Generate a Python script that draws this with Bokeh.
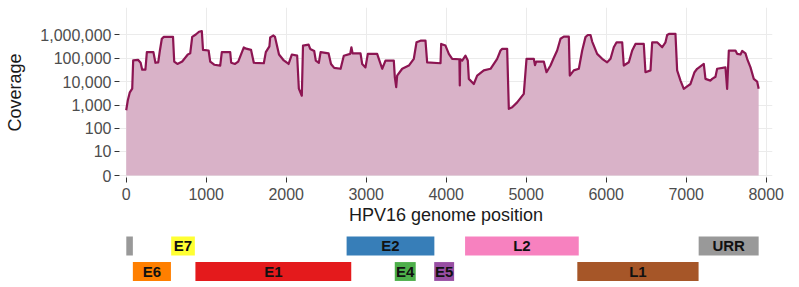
import numpy as np
from bokeh.plotting import figure
from bokeh.layouts import column
from bokeh.models import ColumnDataSource, FixedTicker, Range1d
from bokeh.core.properties import value
from bokeh.embed import file_html
from bokeh.resources import INLINE

# Sequencing depth along the HPV16 genome (position in bp, read coverage)
position = [
    0, 20, 45, 75, 87, 150, 180, 200, 240, 258, 340, 365, 400, 420, 445, 470,
    585, 600, 640, 700, 770, 800, 825, 870, 910, 945, 960, 1030, 1050, 1100,
    1175, 1195, 1300, 1312, 1360, 1400, 1470, 1500, 1560, 1595, 1720, 1745,
    1790, 1800, 1840, 1860, 1880, 1910, 1970, 2030, 2070, 2137, 2158, 2195,
    2210, 2280, 2300, 2350, 2370, 2408, 2430, 2530, 2560, 2600, 2680, 2720,
    2800, 2815, 2830, 2929, 2950, 2991, 3020, 3137, 3158, 3200, 3241, 3345,
    3358, 3375, 3387, 3450, 3533, 3595, 3629, 3679, 3741, 3762, 3929, 3937,
    3991, 4033, 4075, 4165, 4170, 4175, 4200, 4241, 4270, 4283, 4345, 4387,
    4470, 4554, 4637, 4679, 4700, 4762, 4783, 4825, 4887, 4970, 5004, 5095,
    5110, 5125, 5220, 5254, 5304, 5340, 5387, 5429, 5470, 5533, 5545, 5595,
    5658, 5700, 5741, 5770, 5804, 5825, 5887, 5950, 6012, 6054, 6095, 6130,
    6200, 6220, 6283, 6325, 6366, 6470, 6491, 6554, 6575, 6637, 6700, 6741,
    6762, 6790, 6866, 6887, 6929, 6970, 7012, 7054, 7104, 7137, 7220, 7241,
    7304, 7325, 7366, 7387, 7491, 7512, 7533, 7616, 7637, 7679, 7700, 7741,
    7762, 7804, 7845, 7887, 7906,
]
coverage = [
    600, 1600, 3500, 5000, 79000, 83000, 63000, 32000, 32000, 178000, 178000,
    63000, 66000, 200000, 660000, 794000, 794000, 71000, 56000, 71000, 141000,
    158000, 794000, 1000000, 1320000, 1410000, 224000, 209000, 71000, 52000,
    48000, 178000, 178000, 63000, 56000, 71000, 282000, 251000, 224000, 63000,
    60000, 178000, 316000, 759000, 912000, 794000, 398000, 141000, 79000,
    56000, 141000, 126000, 5000, 2500, 339000, 372000, 245000, 200000, 78000,
    63000, 178000, 158000, 56000, 38000, 35000, 126000, 151000, 288000,
    158000, 158000, 56000, 40000, 151000, 151000, 93000, 35000, 78000, 78000,
    15000, 5800, 18000, 35000, 48000, 93000, 468000, 550000, 550000, 66000,
    60000, 398000, 339000, 151000, 93000, 89000, 6800, 89000, 78000, 126000,
    78000, 13000, 7900, 18000, 30000, 35000, 93000, 209000, 245000, 245000,
    690, 810, 1300, 3000, 93000, 93000, 50000, 71000, 71000, 25000, 48000,
    93000, 209000, 660000, 813000, 813000, 18000, 30000, 35000, 209000,
    776000, 955000, 955000, 501000, 151000, 93000, 66000, 93000, 288000,
    468000, 468000, 48000, 66000, 209000, 398000, 398000, 25000, 30000,
    468000, 468000, 288000, 468000, 955000, 1070000, 1070000, 30000, 11000,
    4900, 6300, 7900, 25000, 35000, 56000, 13000, 11000, 13000, 16000, 35000,
    40000, 4900, 209000, 209000, 151000, 141000, 200000, 158000, 93000,
    40000, 13000, 10000, 4900,
]

# Axis breaks (coverage axis is log10(coverage + 1))
cov_breaks = [0, 10, 100, 1000, 10000, 100000, 1000000]
cov_break_labels = ["0", "10", "100", "1,000", "10,000", "100,000", "1,000,000"]
pos_breaks = [0, 1000, 2000, 3000, 4000, 5000, 6000, 7000, 8000]

# HPV16 genome annotation
gene_name = ["", "E7", "E2", "L2", "URR", "E6", "E1", "E4", "E5", "L1"]
gene_start = [1, 562, 2755, 4236, 7156, 83, 865, 3357, 3850, 5639]
gene_end = [83, 858, 3852, 5657, 7906, 559, 2813, 3619, 4099, 7155]
gene_track = [1, 1, 1, 1, 1, 0, 0, 0, 0, 0]
gene_color = ["#999999", "#FFFF33", "#377EB8", "#F781BF", "#999999",
              "#FF7F00", "#E41A1C", "#4DAF4A", "#984EA3", "#A65628"]

FONT = "Liberation Sans"
X_RANGE = Range1d(-84, 8079)


def tlog(v):
    return np.log10(np.asarray(v, dtype=float) + 1.0)


# ---- coverage panel ----
cov_src = ColumnDataSource(dict(pos=position, y=tlog(coverage)))

p = figure(width=799, height=228, x_range=X_RANGE, y_range=Range1d(-0.08, 7.15),
           output_backend="svg", toolbar_location=None,
           min_border_left=119, min_border_right=27,
           min_border_top=7, min_border_bottom=51)
p.outline_line_color = None
p.background_fill_color = "white"
p.border_fill_color = "white"

p.varea(x="pos", y1=0, y2="y", source=cov_src, fill_color="#D9B2C8", fill_alpha=1.0)
p.line(x="pos", y="y", source=cov_src, line_color="#8C1552", line_width=2.2,
       line_join="round")

y_ticks = [float(t) for t in tlog(cov_breaks)]
p.yaxis.ticker = FixedTicker(ticks=y_ticks)
p.yaxis.major_label_overrides = {t: lab for t, lab in zip(y_ticks, cov_break_labels)}
p.xaxis.ticker = FixedTicker(ticks=pos_breaks)
p.xgrid.ticker = FixedTicker(ticks=pos_breaks)
p.ygrid.ticker = FixedTicker(ticks=y_ticks)

for ax in (p.xaxis, p.yaxis):
    ax.axis_line_color = None
    ax.major_tick_in = 0
    ax.major_tick_out = 5
    ax.minor_tick_line_color = None
    ax.major_tick_line_color = "#333333"
    ax.major_tick_line_width = 1
    ax.major_label_text_font = FONT
    ax.major_label_text_font_size = "16px"
    ax.major_label_text_color = "#4D4D4D"
    ax.axis_label_text_font = FONT
    ax.axis_label_text_font_size = "18px"
    ax.axis_label_text_font_style = "normal"
    ax.axis_label_text_color = "#1A1A1A"
    ax.major_label_standoff = 3

p.xaxis.major_label_standoff = 5
p.xaxis.axis_label = "HPV16 genome position"
p.yaxis.axis_label = "Coverage"
p.xaxis.axis_label_standoff = 2
p.yaxis.axis_label_standoff = 12

p.xgrid.grid_line_color = "#EBEBEB"
p.ygrid.grid_line_color = "#EBEBEB"
p.xgrid.grid_line_width = 1
p.ygrid.grid_line_width = 1

# ---- gene annotation track ----
gene_src = ColumnDataSource(dict(
    name=gene_name,
    left=gene_start,
    right=gene_end,
    mid=[(a + b) / 2 for a, b in zip(gene_start, gene_end)],
    row=gene_track,
    bottom=[r - 0.37 for r in gene_track],
    top=[r + 0.37 for r in gene_track],
    color=gene_color,
))

g = figure(width=799, height=59, x_range=X_RANGE, y_range=Range1d(-0.627, 1.686),
           output_backend="svg", toolbar_location=None,
           x_axis_type=None, y_axis_type=None,
           min_border_left=119, min_border_right=27,
           min_border_top=0, min_border_bottom=0)
g.outline_line_color = None
g.xgrid.visible = False
g.ygrid.visible = False

g.quad(left="left", right="right", bottom="bottom", top="top", source=gene_src,
       fill_color="color", line_color=None)
g.text(x="mid", y="row", text="name", source=gene_src,
       text_align="center", text_baseline="middle",
       text_font=value(FONT), text_font_style="bold",
       text_font_size="15px", text_color="#111111")

layout = column(p, g, spacing=0)

with open("out.html", "w") as f:
    f.write(file_html(layout, INLINE))
